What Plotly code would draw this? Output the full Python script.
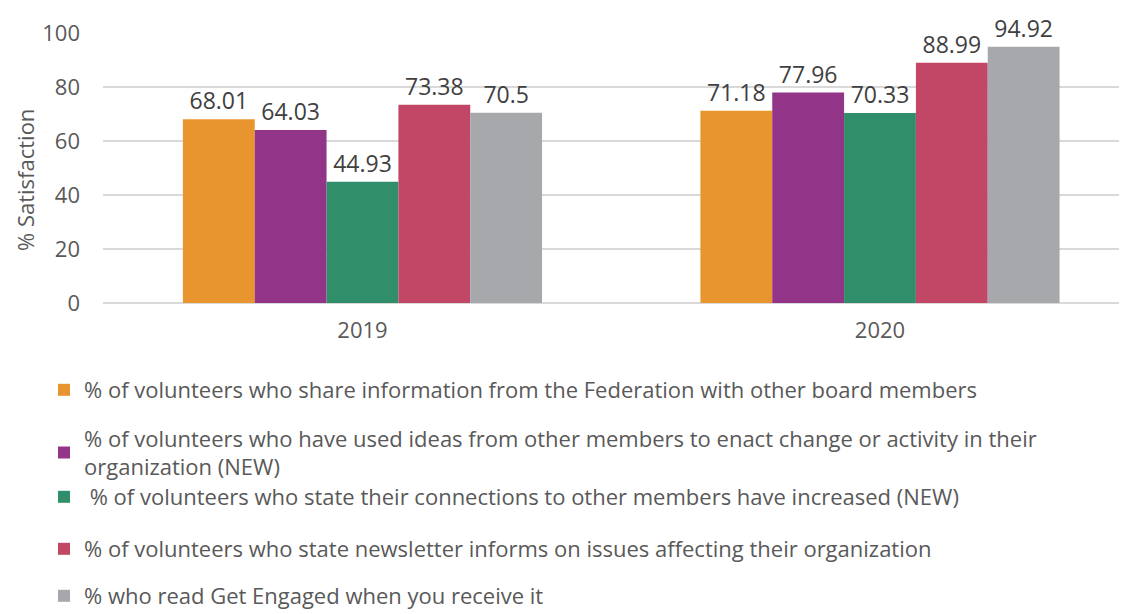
import plotly.graph_objects as go

years = ["2019", "2020"]
series_names = [
    "% of volunteers who share information from the Federation with other board members",
    "% of volunteers who have used ideas from other members to enact change or activity in their<br>organization (NEW)",
    " % of volunteers who state their connections to other members have increased (NEW)",
    "% of volunteers who state newsletter informs on issues affecting their organization",
    "% who read Get Engaged when you receive it",
]
values = [
    [68.01, 71.18],
    [64.03, 77.96],
    [44.93, 70.33],
    [73.38, 88.99],
    [70.5, 94.92],
]
labels = [
    ["68.01", "71.18"],
    ["64.03", "77.96"],
    ["44.93", "70.33"],
    ["73.38", "88.99"],
    ["70.5", "94.92"],
]
colors = ["#E8952F", "#923487", "#318E6B", "#C24766", "#A7A8AC"]
y_ticks = [0, 20, 40, 60, 80, 100]
y_title = "% Satisfaction"

FONT = "Open Sans"
W, H = 1127, 614
OFF = 8  # page body margin offset
legend_centers_px = [390, 453, 497, 549, 596]
legend_left_px = 44

L = 103 - OFF
R = W - (1120 - OFF)
T = 33 - OFF
B = H - (303 - OFF)
plot_w = W - L - R
plot_h = H - T - B

fig = go.Figure()
legend_layouts = {}
for i, (name, vals, lab, col) in enumerate(zip(series_names, values, labels, colors)):
    lname = "legend" if i == 0 else f"legend{i + 1}"
    fig.add_trace(go.Bar(
        x=years, y=vals, name=name, marker=dict(color=col, line=dict(width=0)),
        text=lab, textposition="outside", cliponaxis=False,
        textfont=dict(size=23, color="#404040", family=FONT),
        legend=lname,
    ))
    legend_layouts[lname] = dict(
        xref="container", yref="container",
        x=(legend_left_px - OFF) / W, y=(H - (legend_centers_px[i] - OFF)) / H,
        xanchor="left", yanchor="middle",
        font=dict(size=22, color="#595959", family=FONT),
        bgcolor="rgba(0,0,0,0)", borderwidth=0,
    )

fig.add_annotation(
    text=y_title, textangle=-90, showarrow=False,
    xref="paper", yref="paper",
    x=(25 - OFF - L) / plot_w, y=(303 - 180) / plot_h,
    xanchor="center", yanchor="middle",
    font=dict(size=22, color="#595959", family=FONT),
)

fig.update_layout(
    width=W, height=H,
    margin=dict(l=L, r=R, t=T, b=B, autoexpand=False),
    paper_bgcolor="white", plot_bgcolor="white",
    barmode="group", bargap=0.306, bargroupgap=0,
    font=dict(family=FONT, color="#595959"),
    showlegend=True,
    yaxis=dict(
        range=[0, 100], tickvals=y_ticks, showgrid=True, gridcolor="#D9D9D9", gridwidth=2,
        zeroline=True, zerolinecolor="#D9D9D9", zerolinewidth=2,
        tickfont=dict(size=22, color="#595959"), ticks="", ticklabelstandoff=22,
        automargin=False,
    ),
    xaxis=dict(
        range=[-0.5014, 1.4638],
        tickfont=dict(size=22, color="#595959"), showline=False, ticks="",
        ticklabelstandoff=12, automargin=False,
    ),
    **legend_layouts,
)
fig.write_html("out.html")
